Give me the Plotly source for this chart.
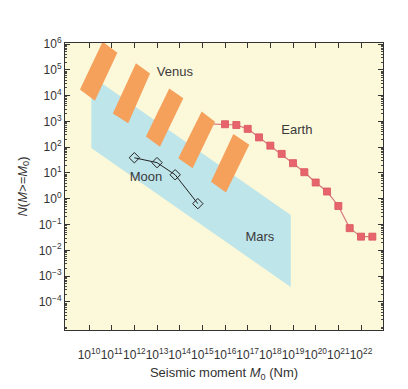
import plotly.graph_objects as go

# ---------------- data (log10 values) ----------------
earth_logM0 = [15.3, 16.0, 16.5, 17.0, 17.5, 18.0, 18.5, 19.0, 19.5, 20.0, 20.5, 21.0, 21.5, 22.0, 22.5]
earth_logN = [2.90, 2.89, 2.86, 2.71, 2.38, 2.06, 1.74, 1.38, 1.03, 0.63, 0.28, -0.28, -1.14, -1.47, -1.47]
earth_marker_from = 1  # first point is hidden under a Venus block

moon_logM0 = [12.0, 13.0, 13.8, 14.8]
moon_logN = [1.59, 1.40, 0.93, -0.19]

mars_logM0 = [10.1, 10.1, 18.9, 18.9]
mars_logN = [4.76, 1.97, -3.42, -0.63]

venus_blocks_logM0 = [
    [10.60, 11.25, 10.26, 9.60],
    [12.07, 12.69, 11.73, 11.05],
    [13.54, 14.16, 13.13, 12.51],
    [14.97, 15.56, 14.57, 13.94],
    [16.37, 17.07, 16.04, 15.38],
]
venus_blocks_logN = [
    [6.09, 5.66, 3.80, 4.24],
    [5.25, 4.86, 2.93, 3.31],
    [4.28, 3.90, 2.02, 2.41],
    [3.38, 2.99, 1.18, 1.57],
    [2.51, 2.09, 0.24, 0.66],
]

labels_text = ["Venus", "Earth", "Moon", "Mars"]
labels_logM0 = [13.79, 19.17, 12.51, 17.54]
labels_logN = [4.88, 2.63, 0.81, -1.52]

x_tick_exp = list(range(10, 23))
y_tick_exp = list(range(-4, 7))


def p10(vals):
    return [10.0 ** float(v) for v in vals]


def sup_label(e):
    s = str(e).replace("-", "\u2212")
    return f"10<sup>{s}</sup>"


FONT = "Liberation Sans Narrow, Arial Narrow, Liberation Sans, Arial, sans-serif"
TXT = "#333333"
ORANGE = "#F5A15C"
BLUE = "#BEE5EA"
RED = "#E8646C"

fig = go.Figure()

# Mars region
fig.add_trace(go.Scatter(
    x=p10(mars_logM0), y=p10(mars_logN), fill="toself", mode="lines",
    line=dict(width=0), fillcolor=BLUE, hoverinfo="skip", showlegend=False))

# Moon
fig.add_trace(go.Scatter(
    x=p10(moon_logM0), y=p10(moon_logN), mode="lines+markers",
    line=dict(color="#222222", width=1),
    marker=dict(symbol="diamond-open", size=8, color="#222222", line=dict(width=1)),
    showlegend=False))

# Earth line
fig.add_trace(go.Scatter(
    x=p10(earth_logM0), y=p10(earth_logN), mode="lines",
    line=dict(color="#D77A7E", width=1.2), showlegend=False))
fig.add_trace(go.Scatter(
    x=p10(earth_logM0[earth_marker_from:]), y=p10(earth_logN[earth_marker_from:]), mode="markers",
    marker=dict(symbol="square", size=7, color=RED, line=dict(color="#D9545C", width=0.8)),
    showlegend=False))

# Venus blocks
for bx, by in zip(venus_blocks_logM0, venus_blocks_logN):
    fig.add_trace(go.Scatter(
        x=p10(bx), y=p10(by), fill="toself", mode="lines",
        line=dict(width=0), fillcolor=ORANGE, hoverinfo="skip", showlegend=False))

# Region labels
fig.add_trace(go.Scatter(
    x=p10(labels_logM0), y=p10(labels_logN), mode="text", text=labels_text,
    textfont=dict(family=FONT, size=13, color="#3a3a3a"), showlegend=False))

axis_common = dict(
    type="log", showline=True, linecolor="#333333", linewidth=1, mirror="ticks",
    ticks="inside", ticklen=5, tickcolor="#333333", showgrid=False, zeroline=False,
    tickfont=dict(family=FONT, size=12, color=TXT), tickangle=0,
)

fig.update_layout(
    width=408, height=389,
    margin=dict(l=65, r=25, t=43, b=59),
    paper_bgcolor="#ffffff", plot_bgcolor="#FCF8DA",
    xaxis=dict(
        **axis_common,
        range=[8.94, 22.97],
        ticklabelstandoff=14,
        tickmode="array", tickvals=p10(x_tick_exp), ticktext=[sup_label(e) for e in x_tick_exp],
        title=dict(text="Seismic moment <i>M</i><sub>0</sub> (Nm)",
                   font=dict(family=FONT, size=13, color=TXT), standoff=6),
    ),
    yaxis=dict(
        **axis_common,
        range=[-5.09, 6.04],
        tickmode="array", tickvals=p10(y_tick_exp), ticktext=[sup_label(e) for e in y_tick_exp],
        minor=dict(ticks="inside", ticklen=2, tickcolor="#444444", dtick="D1", showgrid=False),
        title=dict(text="<i>N</i>(<i>M</i>>=<i>M</i><sub>0</sub>)",
                   font=dict(family=FONT, size=13, color=TXT), standoff=8),
    ),
)

fig.write_html("out.html", config={"displayModeBar": False},
               post_script="document.body.style.margin='0px';")
